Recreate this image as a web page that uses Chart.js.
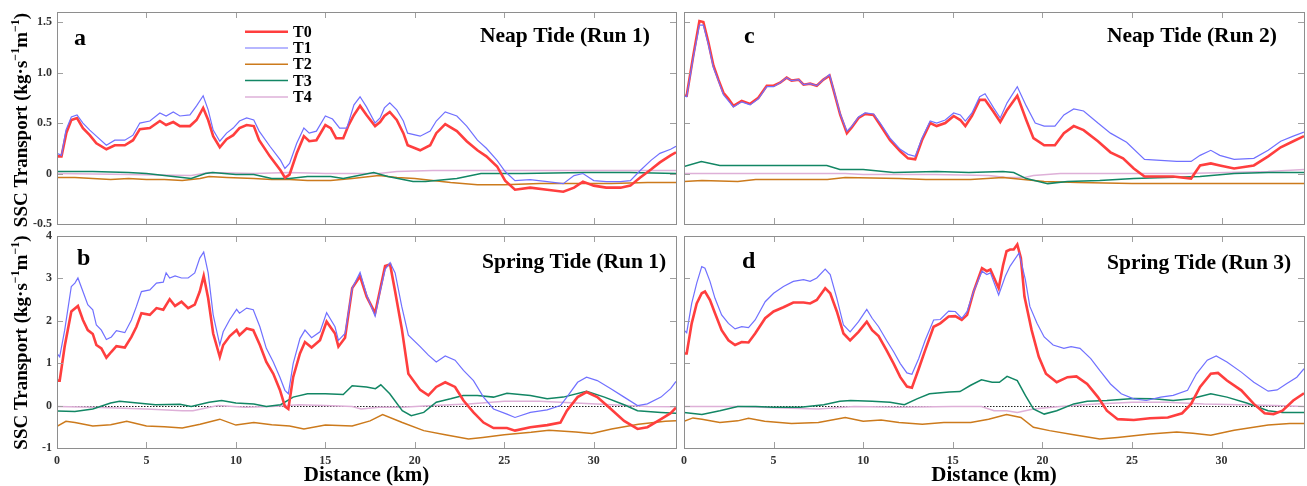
<!DOCTYPE html>
<html>
<head>
<meta charset="utf-8">
<script src="https://cdn.jsdelivr.net/npm/chart.js"></script>
<style>
  body { margin: 0; background: #fff; }
  #wrap { position: relative; width: 1307px; height: 486px; overflow: hidden; }
  #wrap canvas { position: absolute; }
</style>
</head>
<body>
<div id="wrap">
  <canvas id="panelA" width="680" height="230" style="left:0;top:0"></canvas>
  <canvas id="panelC" width="627" height="230" style="left:680px;top:0"></canvas>
  <canvas id="panelB" width="680" height="256" style="left:0;top:230px"></canvas>
  <canvas id="panelD" width="627" height="256" style="left:680px;top:230px"></canvas>
</div>
<script>
// axis ticks
var distTicks = [0, 5, 10, 15, 20, 25, 30];
var neapTicks = [-0.5, 0, 0.5, 1.0, 1.5];
var neapTickLabels = ['-0.5', '0', '0.5', '1.0', '1.5'];
var springTicks = [-1, 0, 1, 2, 3, 4];
var springTickLabels = ['-1', '0', '1', '2', '3', '4'];

var seriesNames = ['T0', 'T1', 'T2', 'T3', 'T4'];
var seriesColors = ['rgb(255,62,62)', 'rgb(112,112,255)', 'rgb(204,122,28)', 'rgb(18,134,100)', 'rgb(222,176,216)'];
var seriesWidths = [2.6, 1.2, 1.5, 1.5, 1.5];
var seriesOrder = [1, 0, 3, 2, 4];

// SSC transport along the channel: [distance km, kg/s/m]
// a - neap tide, run 1
var neap1T0 = [[0,0.17],[0.25,0.17],[0.52,0.40],[0.8,0.53],[1.12,0.55],[1.45,0.45],[1.83,0.38],[2.2,0.30],[2.76,0.24],[3.23,0.28],[3.79,0.28],[4.25,0.33],[4.63,0.44],[5.19,0.45],[5.75,0.52],[6.1,0.48],[6.5,0.51],[6.87,0.47],[7.43,0.47],[7.8,0.53],[8.17,0.65],[8.45,0.53],[8.73,0.37],[9.1,0.26],[9.48,0.34],[9.85,0.38],[10.2,0.45],[10.6,0.48],[11.0,0.47],[11.3,0.33],[11.9,0.17],[12.5,0.03],[12.74,-0.04],[13.0,-0.01],[13.4,0.20],[13.8,0.37],[14.1,0.32],[14.5,0.33],[15.0,0.48],[15.3,0.45],[15.6,0.35],[16.0,0.35],[16.3,0.48],[16.6,0.58],[16.94,0.67],[17.3,0.58],[17.78,0.47],[18.06,0.51],[18.3,0.57],[18.6,0.61],[18.99,0.53],[19.36,0.40],[19.6,0.28],[20.3,0.23],[20.86,0.28],[21.2,0.40],[21.7,0.49],[22.35,0.42],[22.9,0.32],[23.5,0.23],[24.0,0.17],[24.6,0.07],[25.05,-0.07],[25.6,-0.16],[26.45,-0.14],[27.4,-0.16],[28.3,-0.18],[28.9,-0.14],[29.4,-0.08],[30.0,-0.12],[30.7,-0.14],[31.5,-0.14],[32.05,-0.12],[32.6,-0.04],[33.2,0.04],[33.7,0.11],[34.3,0.18],[34.6,0.21]];
var neap1T1 = [[0,0.20],[0.25,0.18],[0.5,0.43],[0.8,0.56],[1.12,0.58],[1.45,0.50],[1.83,0.43],[2.2,0.37],[2.76,0.28],[3.23,0.33],[3.79,0.33],[4.25,0.38],[4.63,0.50],[5.19,0.52],[5.75,0.60],[6.1,0.57],[6.5,0.61],[6.87,0.57],[7.43,0.58],[7.8,0.67],[8.17,0.77],[8.45,0.63],[8.73,0.43],[9.1,0.32],[9.48,0.40],[9.85,0.45],[10.2,0.52],[10.6,0.55],[11.0,0.53],[11.3,0.42],[11.9,0.27],[12.5,0.13],[12.74,0.05],[13.0,0.10],[13.4,0.30],[13.8,0.45],[14.1,0.40],[14.5,0.42],[15.0,0.57],[15.4,0.54],[15.8,0.45],[16.2,0.45],[16.6,0.68],[16.94,0.76],[17.3,0.66],[17.78,0.50],[18.06,0.55],[18.3,0.65],[18.6,0.70],[18.99,0.63],[19.36,0.52],[19.6,0.40],[20.3,0.37],[20.86,0.42],[21.2,0.52],[21.7,0.61],[22.35,0.57],[22.9,0.47],[23.5,0.33],[24.0,0.25],[24.6,0.13],[25.05,0.02],[25.6,-0.07],[26.45,-0.06],[27.4,-0.08],[28.3,-0.10],[28.9,-0.02],[29.4,0.00],[30.0,-0.07],[30.7,-0.08],[31.5,-0.08],[32.05,-0.07],[32.6,0.03],[33.2,0.13],[33.7,0.20],[34.3,0.24],[34.6,0.27]];
var neap1T2 = [[0,-0.04],[1,-0.04],[2,-0.05],[3,-0.06],[4,-0.05],[5,-0.06],[6,-0.06],[7,-0.07],[8,-0.05],[8.5,-0.03],[9.5,-0.04],[11,-0.05],[12,-0.06],[13,-0.06],[14,-0.07],[15.3,-0.07],[16.5,-0.05],[17.5,-0.03],[18,-0.02],[19,-0.04],[20,-0.05],[21,-0.07],[22,-0.09],[23.5,-0.11],[25,-0.11],[27,-0.10],[29,-0.10],[31,-0.10],[33,-0.09],[34.6,-0.09]];
var neap1T3 = [[0,0.02],[2,0.02],[4,0.01],[5,0.00],[6.5,-0.03],[7.5,-0.05],[8.3,0.00],[8.7,0.01],[10,-0.01],[11,-0.01],[12,-0.05],[13,-0.05],[14,-0.03],[15.3,-0.03],[16,-0.05],[17.7,0.01],[18.5,-0.03],[19.9,-0.08],[20.6,-0.08],[22.35,-0.05],[23.7,0.00],[26,0.00],[29.5,0.01],[32,0.01],[34.6,0.00]];
var neap1T4 = [[0,0.00],[4,-0.01],[7.5,-0.02],[8.5,0.01],[11,0.00],[13,0.01],[15,0.00],[18,0.00],[19,0.02],[21,0.03],[25,0.03],[30,0.03],[34.6,0.03]];

// b - spring tide, run 1
var spring1T0 = [[0,0.59],[0.15,0.59],[0.43,1.40],[0.8,2.22],[1.17,2.35],[1.45,2.02],[1.72,1.78],[2.0,1.69],[2.2,1.43],[2.48,1.35],[2.76,1.13],[3.04,1.27],[3.32,1.40],[3.79,1.37],[4.16,1.62],[4.44,1.86],[4.72,2.18],[5.19,2.14],[5.56,2.30],[5.94,2.26],[6.3,2.51],[6.6,2.35],[6.96,2.45],[7.33,2.30],[7.7,2.38],[7.98,2.69],[8.2,3.06],[8.45,2.53],[8.73,1.70],[9.1,1.15],[9.29,1.43],[9.66,1.64],[10.04,1.78],[10.2,1.66],[10.6,1.82],[10.97,1.78],[11.34,1.43],[11.7,1.03],[12.09,0.75],[12.46,0.37],[12.74,-0.02],[12.93,-0.08],[13.2,0.67],[13.58,1.23],[13.86,1.50],[14.23,1.37],[14.7,1.54],[15.07,1.98],[15.54,1.70],[15.73,1.39],[16.1,1.60],[16.5,2.77],[16.94,3.05],[17.31,2.57],[17.78,2.18],[18.06,2.73],[18.34,3.29],[18.62,3.33],[18.9,2.69],[19.27,1.82],[19.64,0.75],[20.3,0.37],[20.76,0.24],[21.2,0.44],[21.7,0.55],[22.25,0.44],[22.72,0.12],[23.28,-0.16],[23.84,-0.40],[24.4,-0.53],[25.15,-0.53],[25.6,-0.59],[26.46,-0.51],[27.4,-0.46],[28.14,-0.40],[28.5,-0.12],[29.1,0.20],[29.6,0.32],[30.2,0.20],[30.96,-0.08],[31.7,-0.36],[32.45,-0.55],[33.0,-0.51],[33.76,-0.32],[34.3,-0.18],[34.6,-0.05]];
var spring1T1 = [[0,1.23],[0.15,1.15],[0.43,1.78],[0.8,2.81],[1.0,2.89],[1.17,3.01],[1.45,2.69],[1.72,2.38],[2.0,2.26],[2.2,1.90],[2.48,1.78],[2.76,1.56],[3.04,1.62],[3.32,1.77],[3.79,1.72],[4.16,2.02],[4.44,2.34],[4.72,2.69],[5.19,2.73],[5.56,2.89],[5.94,2.91],[6.1,3.13],[6.3,3.01],[6.6,3.06],[6.96,3.01],[7.33,3.01],[7.7,3.13],[7.98,3.48],[8.2,3.62],[8.45,3.13],[8.73,2.14],[9.1,1.43],[9.29,1.74],[9.66,2.03],[10.04,2.27],[10.2,2.18],[10.6,2.30],[10.97,2.26],[11.34,1.86],[11.7,1.35],[12.09,1.03],[12.46,0.67],[12.74,0.36],[12.93,0.28],[13.2,0.99],[13.58,1.58],[13.86,1.78],[14.23,1.60],[14.7,1.74],[15.07,2.19],[15.54,1.86],[15.73,1.54],[16.1,1.70],[16.5,2.77],[16.94,3.14],[17.31,2.61],[17.78,2.11],[18.06,2.69],[18.34,3.21],[18.62,3.37],[18.9,3.13],[19.27,2.34],[19.64,1.66],[20.3,1.39],[20.76,1.19],[21.2,1.03],[21.7,1.17],[22.25,1.07],[22.72,0.83],[23.28,0.59],[23.84,0.20],[24.4,-0.08],[25.15,-0.20],[25.6,-0.28],[26.46,-0.16],[27.4,-0.10],[28.14,0.00],[28.5,0.20],[29.1,0.55],[29.6,0.67],[30.2,0.59],[30.96,0.40],[31.7,0.20],[32.45,0.00],[33.0,0.04],[33.76,0.20],[34.3,0.40],[34.6,0.57]];
var spring1T2 = [[0,-0.49],[0.5,-0.37],[1,-0.40],[2,-0.48],[3,-0.45],[3.9,-0.37],[5,-0.48],[6,-0.50],[7,-0.53],[8,-0.44],[9.1,-0.32],[10,-0.46],[11,-0.40],[12,-0.45],[13,-0.48],[13.8,-0.55],[15,-0.46],[16.5,-0.48],[17.5,-0.36],[18.2,-0.21],[19.3,-0.40],[20.5,-0.59],[21.7,-0.69],[23.0,-0.79],[23.8,-0.75],[25,-0.69],[26.5,-0.63],[27.5,-0.58],[29,-0.62],[29.9,-0.66],[31,-0.55],[32.5,-0.44],[34,-0.37],[34.6,-0.36]];
var spring1T3 = [[0,-0.13],[1,-0.14],[2,-0.08],[3,0.06],[3.5,0.10],[4.5,0.06],[5.5,0.02],[6.87,0.03],[7.5,-0.02],[8.5,0.08],[9.2,0.12],[10,0.06],[11,0.04],[11.7,-0.02],[12.5,0.02],[13.2,0.20],[14,0.28],[15,0.28],[16,0.26],[16.5,0.47],[17.3,0.44],[17.8,0.40],[18.1,0.49],[18.6,0.28],[19.3,-0.12],[19.8,-0.24],[20.5,-0.16],[21.2,0.08],[22.0,0.16],[22.7,0.24],[23.5,0.24],[24.4,0.20],[25.15,0.29],[26.46,0.24],[27.4,0.16],[28.3,0.20],[29.6,0.34],[30.6,0.20],[31.7,0.02],[32.45,-0.12],[33.76,-0.16],[34.6,-0.18]];
var spring1T4 = [[0,-0.02],[2,-0.04],[5,-0.08],[7,-0.12],[7.6,-0.12],[9,0.00],[10.5,-0.04],[12,-0.02],[13.5,0.02],[15,0.00],[16.5,-0.02],[17,-0.08],[18,-0.04],[19.3,-0.04],[21,0.00],[23,0.04],[25,0.10],[27,0.10],[29,0.06],[31,0.02],[33,-0.02],[34.6,-0.03]];

// c - neap tide, run 2
var neap2T0 = [[0,0.77],[0.15,0.77],[0.52,1.17],[0.86,1.51],[1.08,1.50],[1.36,1.30],[1.64,1.07],[1.92,0.93],[2.2,0.80],[2.48,0.74],[2.76,0.67],[3.22,0.72],[3.69,0.69],[4.15,0.75],[4.62,0.87],[5.0,0.87],[5.36,0.90],[5.73,0.95],[6.0,0.92],[6.4,0.93],[6.67,0.88],[7.04,0.89],[7.41,0.87],[7.78,0.93],[8.12,0.97],[8.34,0.83],[8.72,0.58],[9.09,0.40],[9.37,0.46],[9.74,0.55],[10.11,0.59],[10.58,0.58],[10.95,0.48],[11.5,0.33],[12.07,0.22],[12.5,0.15],[12.9,0.14],[13.28,0.33],[13.74,0.50],[14.1,0.47],[14.58,0.50],[15.05,0.57],[15.42,0.53],[15.7,0.47],[16.07,0.57],[16.5,0.73],[16.8,0.73],[17.28,0.61],[17.65,0.51],[18.03,0.63],[18.6,0.77],[19.1,0.53],[19.5,0.35],[20.1,0.28],[20.7,0.28],[21.2,0.40],[21.75,0.47],[22.3,0.43],[23.1,0.32],[23.8,0.21],[24.5,0.15],[25.1,0.05],[25.7,-0.03],[26.4,-0.03],[27.3,-0.03],[28.3,-0.05],[28.8,0.08],[29.4,0.10],[29.9,0.08],[30.7,0.05],[31.8,0.08],[32.6,0.17],[33.3,0.26],[34.0,0.32],[34.6,0.37]];
var neap2T1 = [[0,0.77],[0.15,0.76],[0.52,1.15],[0.86,1.47],[1.08,1.47],[1.36,1.28],[1.64,1.05],[1.92,0.92],[2.2,0.78],[2.48,0.72],[2.76,0.66],[3.22,0.71],[3.69,0.68],[4.15,0.74],[4.62,0.86],[5.0,0.86],[5.36,0.90],[5.73,0.95],[6.0,0.92],[6.4,0.93],[6.67,0.88],[7.04,0.89],[7.41,0.87],[7.78,0.93],[8.12,0.98],[8.34,0.84],[8.72,0.59],[9.09,0.42],[9.37,0.47],[9.74,0.56],[10.11,0.60],[10.58,0.59],[10.95,0.50],[11.5,0.35],[12.07,0.24],[12.5,0.19],[12.9,0.17],[13.28,0.35],[13.74,0.52],[14.1,0.50],[14.58,0.53],[15.05,0.60],[15.42,0.58],[15.7,0.52],[16.07,0.60],[16.5,0.76],[16.8,0.79],[17.28,0.65],[17.65,0.55],[18.03,0.70],[18.6,0.86],[19.1,0.67],[19.6,0.50],[20.1,0.47],[20.7,0.47],[21.2,0.58],[21.75,0.64],[22.3,0.62],[23.1,0.50],[23.8,0.40],[24.7,0.31],[25.7,0.14],[26.6,0.13],[27.5,0.12],[28.3,0.12],[28.8,0.18],[29.4,0.23],[29.9,0.18],[30.7,0.14],[31.8,0.15],[32.6,0.23],[33.3,0.32],[34.0,0.37],[34.6,0.41]];
var neap2T2 = [[0,-0.08],[1,-0.07],[3,-0.08],[4,-0.06],[8,-0.06],[9,-0.04],[12,-0.05],[13.5,-0.06],[16,-0.06],[17.8,-0.04],[20.1,-0.08],[22,-0.09],[25,-0.10],[30,-0.10],[34.6,-0.10]];
var neap2T3 = [[0,0.07],[0.97,0.12],[2.0,0.08],[3.87,0.08],[6.67,0.08],[7.97,0.08],[8.7,0.04],[10,0.04],[11.7,0.01],[14.1,0.02],[15.9,0.01],[17.8,0.02],[18.4,0.01],[19.1,-0.05],[20.3,-0.10],[21.4,-0.08],[23.2,-0.07],[25.1,-0.05],[26.9,-0.04],[28.8,-0.03],[30.7,0.00],[32.6,0.01],[34.6,0.01]];
var neap2T4 = [[0,0.00],[9,0.00],[10,-0.01],[14,-0.01],[17,-0.02],[18,-0.04],[19,-0.04],[19.5,-0.02],[21,0.00],[28,0.00],[32.6,0.02],[34.6,0.04]];

// d - spring tide, run 3
var spring3T0 = [[0,1.23],[0.15,1.23],[0.43,1.94],[0.71,2.41],[0.99,2.65],[1.17,2.69],[1.45,2.49],[1.73,2.18],[2.1,1.78],[2.48,1.54],[2.85,1.43],[3.22,1.50],[3.6,1.49],[3.97,1.70],[4.53,2.06],[5.0,2.22],[5.55,2.32],[6.1,2.43],[6.67,2.43],[7.04,2.41],[7.41,2.49],[7.88,2.77],[8.16,2.65],[8.53,2.22],[8.9,1.70],[9.27,1.54],[9.74,1.74],[10.2,1.98],[10.5,1.78],[10.86,1.64],[11.3,1.31],[11.7,0.99],[12.07,0.67],[12.44,0.45],[12.72,0.42],[13.1,0.87],[13.46,1.31],[13.93,1.86],[14.3,1.94],[14.77,2.10],[15.14,2.11],[15.5,2.02],[15.8,2.14],[16.16,2.69],[16.63,3.24],[16.9,3.17],[17.1,3.21],[17.56,2.77],[17.8,3.30],[18.0,3.64],[18.2,3.68],[18.4,3.68],[18.6,3.80],[18.8,3.48],[19.0,2.57],[19.4,1.78],[19.8,1.15],[20.2,0.75],[20.8,0.55],[21.4,0.67],[21.9,0.69],[22.5,0.51],[23.1,0.20],[23.6,-0.12],[24.2,-0.32],[25.1,-0.34],[26.0,-0.30],[27.0,-0.28],[27.8,-0.18],[28.3,0.04],[28.8,0.44],[29.4,0.75],[29.8,0.77],[30.3,0.59],[31.1,0.36],[31.8,0.04],[32.4,-0.18],[32.9,-0.20],[33.4,-0.12],[34.0,0.12],[34.6,0.29]];
var spring3T1 = [[0,1.78],[0.15,1.72],[0.43,2.41],[0.71,2.89],[0.99,3.28],[1.17,3.24],[1.45,2.93],[1.73,2.53],[2.1,2.14],[2.48,1.94],[2.85,1.81],[3.22,1.86],[3.6,1.84],[3.97,2.02],[4.53,2.45],[5.0,2.65],[5.55,2.81],[6.1,2.93],[6.67,2.97],[7.04,2.93],[7.41,3.01],[7.88,3.22],[8.16,3.09],[8.53,2.53],[8.9,1.90],[9.27,1.74],[9.74,1.98],[10.2,2.27],[10.5,2.06],[10.86,1.86],[11.3,1.54],[11.7,1.27],[12.07,0.99],[12.44,0.77],[12.72,0.74],[13.1,1.11],[13.46,1.54],[13.93,2.02],[14.3,2.03],[14.77,2.23],[15.14,2.22],[15.5,2.06],[15.8,2.22],[16.16,2.69],[16.63,3.17],[16.9,3.09],[17.1,3.13],[17.56,2.61],[17.93,3.05],[18.2,3.29],[18.7,3.60],[19.05,2.97],[19.3,2.34],[19.7,1.94],[20.1,1.62],[20.6,1.43],[21.2,1.35],[21.6,1.39],[22.1,1.35],[22.7,1.11],[23.2,0.83],[23.8,0.51],[24.4,0.28],[25.1,0.16],[25.8,0.12],[26.6,0.20],[27.3,0.24],[28.1,0.36],[28.6,0.75],[29.2,1.07],[29.7,1.17],[30.3,1.03],[31.1,0.79],[31.8,0.55],[32.6,0.34],[33.1,0.37],[33.6,0.51],[34.2,0.67],[34.6,0.87]];
var spring3T2 = [[0,-0.37],[0.5,-0.29],[1,-0.32],[2,-0.40],[3,-0.36],[3.6,-0.30],[4.5,-0.37],[6,-0.42],[7.5,-0.40],[9,-0.28],[10,-0.37],[11,-0.34],[12,-0.40],[13.3,-0.44],[14.5,-0.40],[16,-0.40],[17,-0.32],[18,-0.21],[18.8,-0.28],[19.5,-0.51],[20.4,-0.59],[21.75,-0.69],[23.2,-0.79],[24.2,-0.75],[26.0,-0.67],[27.5,-0.62],[28.4,-0.65],[29.4,-0.70],[30.7,-0.58],[32.6,-0.46],[33.8,-0.42],[34.6,-0.42]];
var spring3T3 = [[0,-0.16],[1,-0.21],[2,-0.12],[3,-0.02],[4,-0.02],[5,-0.04],[6.5,-0.04],[7.8,0.02],[8.7,0.10],[9.3,0.12],[10.5,0.10],[11.5,0.08],[12.3,0.02],[13,0.16],[13.7,0.28],[14.8,0.32],[15.4,0.33],[16,0.48],[16.6,0.61],[17.2,0.55],[17.6,0.55],[18.03,0.69],[18.6,0.59],[19.05,0.24],[19.5,-0.08],[20.1,-0.20],[20.8,-0.12],[21.75,0.04],[22.5,0.10],[23.6,0.12],[25.1,0.17],[26.2,0.16],[27.3,0.12],[28.3,0.16],[29.4,0.28],[30.3,0.20],[31.4,0.06],[32.6,-0.12],[33.4,-0.16],[34.6,-0.16]];
var spring3T4 = [[0,-0.02],[3,-0.02],[6,-0.06],[7.5,-0.08],[9.5,-0.02],[12,-0.04],[15,-0.02],[16.6,-0.02],[17.3,-0.12],[18,-0.12],[18.6,-0.16],[19.5,-0.08],[21,-0.02],[23,0.04],[25,0.08],[27,0.08],[29,0.04],[31,0.02],[33,0.00],[34.6,-0.02]];

var serif = '"Liberation Serif", "Times New Roman", serif';

// y-axis title with superscripts, drawn rotated
function drawYTitle(ctx, x, y) {
    var big = 'bold 19px ' + serif;
    var small = 'bold 12px ' + serif;
    var parts = [['SSC Transport (kg\u00b7s', big, 0], ['\u22121', small, -8], ['m', big, 0], ['\u22121', small, -8], [')', big, 0]];
    var total = 0;
    parts.forEach(function (p) { ctx.font = p[1]; total += ctx.measureText(p[0]).width; });
    ctx.save();
    ctx.translate(x, y);
    ctx.rotate(-Math.PI / 2);
    ctx.textBaseline = 'alphabetic';
    ctx.textAlign = 'left';
    var cx = -total / 2;
    parts.forEach(function (p) {
        ctx.font = p[1];
        ctx.fillText(p[0], cx, p[2]);
        cx += ctx.measureText(p[0]).width;
    });
    ctx.restore();
}

// box round the plot, inward ticks on every side, optional dotted zero line
function framePlugin(zeroLine) {
    return {
        id: 'frame',
        beforeDatasetsDraw: function (chart) {
            if (!zeroLine) return;
            var ctx = chart.ctx, a = chart.chartArea;
            var py = Math.round(chart.scales.y.getPixelForValue(0)) + 0.5;
            ctx.save();
            ctx.strokeStyle = '#222';
            ctx.lineWidth = 1;
            ctx.setLineDash([1.5, 1.5]);
            ctx.beginPath();
            ctx.moveTo(a.left, py);
            ctx.lineTo(a.right, py);
            ctx.stroke();
            ctx.restore();
        },
        afterDatasetsDraw: function (chart) {
            var ctx = chart.ctx, a = chart.chartArea;
            var xs = chart.scales.x, ys = chart.scales.y;
            var len = 6;
            ctx.save();
            ctx.strokeStyle = '#a0a0a0';
            ctx.lineWidth = 1;
            ctx.beginPath();
            distTicks.forEach(function (v) {
                var px = Math.round(xs.getPixelForValue(v)) + 0.5;
                ctx.moveTo(px, a.bottom); ctx.lineTo(px, a.bottom - len);
                ctx.moveTo(px, a.top); ctx.lineTo(px, a.top + len);
            });
            ys.ticks.forEach(function (t) {
                var py = Math.round(ys.getPixelForValue(t.value)) + 0.5;
                ctx.moveTo(a.left, py); ctx.lineTo(a.left + len, py);
                ctx.moveTo(a.right, py); ctx.lineTo(a.right - len, py);
            });
            ctx.stroke();
            ctx.strokeStyle = '#8e8e8e';
            ctx.strokeRect(Math.round(a.left) + 0.5, Math.round(a.top) + 0.5,
                Math.round(a.right - a.left), Math.round(a.bottom - a.top));
            ctx.restore();
        }
    };
}

// panel letter, run title, axis titles and the legend
function textPlugin(cfg) {
    return {
        id: 'panelText',
        afterDraw: function (chart) {
            var ctx = chart.ctx;
            ctx.save();
            ctx.fillStyle = '#000';
            ctx.textBaseline = 'alphabetic';
            ctx.textAlign = 'left';
            ctx.font = 'bold 24px ' + serif;
            ctx.fillText(cfg.letter, cfg.letterX, cfg.letterY);
            ctx.font = 'bold 21.5px ' + serif;
            ctx.fillText(cfg.title, cfg.titleX, cfg.titleY);
            if (cfg.xTitle) {
                ctx.textAlign = 'center';
                ctx.font = 'bold 21px ' + serif;
                ctx.fillText('Distance (km)', cfg.xTitle[0], cfg.xTitle[1]);
            }
            if (cfg.yTitle) drawYTitle(ctx, cfg.yTitle[0], cfg.yTitle[1]);
            if (cfg.legend) {
                ctx.textAlign = 'left';
                ctx.textBaseline = 'middle';
                ctx.font = 'bold 16px ' + serif;
                seriesNames.forEach(function (name, i) {
                    var ly = cfg.legend[1] + i * 16.3;
                    ctx.strokeStyle = seriesColors[i];
                    ctx.lineWidth = seriesWidths[i];
                    ctx.beginPath();
                    ctx.moveTo(cfg.legend[0], ly);
                    ctx.lineTo(cfg.legend[0] + 43, ly);
                    ctx.stroke();
                    ctx.fillStyle = '#000';
                    ctx.fillText(name, cfg.legend[0] + 48, ly + 1);
                });
            }
            ctx.restore();
        }
    };
}

function makePanel(canvasId, o) {
    var ctx = document.getElementById(canvasId).getContext('2d');
    var datasets = o.series.map(function (pts, i) {
        return {
            label: seriesNames[i],
            data: pts.map(function (p) { return {x: p[0], y: p[1]}; }),
            borderColor: seriesColors[i],
            borderWidth: seriesWidths[i],
            order: seriesOrder[i],
            pointRadius: 0,
            tension: 0,
            fill: false
        };
    });
    var tickFont = {family: serif, size: 12, weight: 'bold'};
    return new Chart(ctx, {
        type: 'line',
        data: {datasets: datasets},
        options: {
            responsive: false,
            animation: false,
            events: [],
            layout: {padding: o.padding},
            scales: {
                x: {
                    type: 'linear',
                    min: 0,
                    max: 34.6,
                    grid: {display: false, drawTicks: false},
                    border: {display: false},
                    afterBuildTicks: function (s) {
                        s.ticks = distTicks.map(function (v) { return {value: v}; });
                    },
                    ticks: {
                        display: o.xLabels,
                        autoSkip: false,
                        maxRotation: 0,
                        padding: 6,
                        color: '#333',
                        font: tickFont,
                        callback: function (v) { return String(v); }
                    },
                    afterFit: function (s) {
                        s.height = o.xHeight;
                        s.paddingLeft = 0;
                        s.paddingRight = 0;
                    }
                },
                y: {
                    type: 'linear',
                    min: o.yMin,
                    max: o.yMax,
                    grid: {display: false, drawTicks: false},
                    border: {display: false},
                    afterBuildTicks: function (s) {
                        s.ticks = o.yTicks.map(function (v) { return {value: v}; });
                    },
                    ticks: {
                        display: o.yLabels,
                        autoSkip: false,
                        padding: 5,
                        color: '#333',
                        font: tickFont,
                        callback: function (v, i) { return o.yTickLabels[i]; }
                    },
                    afterFit: function (s) {
                        s.width = o.yWidth;
                        s.paddingTop = 0;
                        s.paddingBottom = 0;
                    }
                }
            },
            plugins: {
                legend: {display: false},
                tooltip: {enabled: false}
            }
        },
        plugins: [framePlugin(o.zeroLine), textPlugin(o.text)]
    });
}

// a: neap tide run 1 (top left)
makePanel('panelA', {
    series: [neap1T0, neap1T1, neap1T2, neap1T3, neap1T4],
    yMin: -0.5, yMax: 1.6, yTicks: neapTicks, yTickLabels: neapTickLabels,
    padding: {left: 0, top: 12, right: 4, bottom: 0},
    yWidth: 57, xHeight: 6, xLabels: false, yLabels: true, zeroLine: false,
    text: {letter: 'a', letterX: 74, letterY: 44.5, title: 'Neap Tide (Run 1)', titleX: 480, titleY: 42,
        yTitle: [27, 120], legend: [245, 31.7]}
});

// c: neap tide run 2 (top right)
makePanel('panelC', {
    series: [neap2T0, neap2T1, neap2T2, neap2T3, neap2T4],
    yMin: -0.5, yMax: 1.6, yTicks: neapTicks, yTickLabels: neapTickLabels,
    padding: {left: 0, top: 12, right: 3, bottom: 0},
    yWidth: 4, xHeight: 6, xLabels: false, yLabels: false, zeroLine: false,
    text: {letter: 'c', letterX: 64, letterY: 43, title: 'Neap Tide (Run 2)', titleX: 427, titleY: 42.3}
});

// b: spring tide run 1 (bottom left)
makePanel('panelB', {
    series: [spring1T0, spring1T1, spring1T2, spring1T3, spring1T4],
    yMin: -1, yMax: 4, yTicks: springTicks, yTickLabels: springTickLabels,
    padding: {left: 0, top: 6, right: 4, bottom: 0},
    yWidth: 57, xHeight: 38, xLabels: true, yLabels: true, zeroLine: true,
    text: {letter: 'b', letterX: 77, letterY: 35, title: 'Spring Tide (Run 1)', titleX: 482, titleY: 38,
        yTitle: [27, 112.5], xTitle: [366.5, 250.7]}
});

// d: spring tide run 3 (bottom right)
makePanel('panelD', {
    series: [spring3T0, spring3T1, spring3T2, spring3T3, spring3T4],
    yMin: -1, yMax: 4, yTicks: springTicks, yTickLabels: springTickLabels,
    padding: {left: 0, top: 6, right: 3, bottom: 0},
    yWidth: 4, xHeight: 38, xLabels: true, yLabels: false, zeroLine: true,
    text: {letter: 'd', letterX: 62, letterY: 38.3, title: 'Spring Tide (Run 3)', titleX: 427, titleY: 39,
        xTitle: [314, 250.7]}
});
</script>
</body>
</html>
